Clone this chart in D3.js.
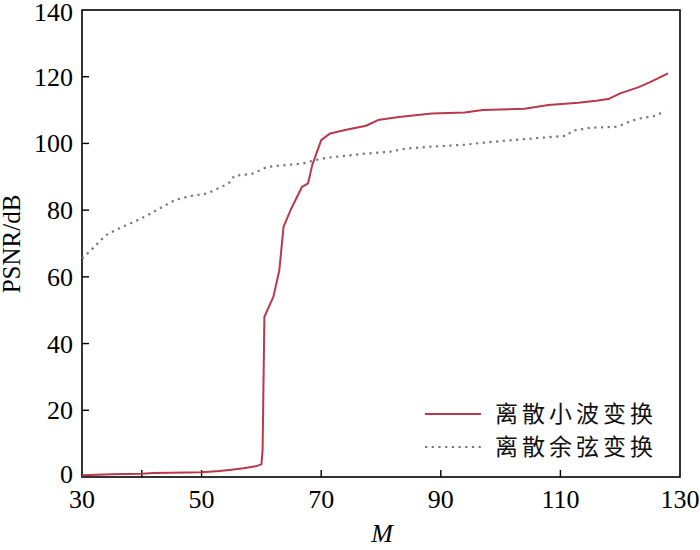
<!DOCTYPE html>
<html>
<head>
<meta charset="utf-8">
<script src="https://cdn.jsdelivr.net/npm/d3@7"></script>
<style>
  html, body { margin: 0; padding: 0; background: #fff; }
  svg { display: block; }
</style>
</head>
<body>
<svg id="chart" width="700" height="550"></svg>
<script>
// ---- data ----
const seriesNames = ["离散小波变换", "离散余弦变换"];

const dwtM    = [30, 35, 40, 42, 50, 53, 55, 57, 59, 60, 60.2, 60.5, 61, 62, 63, 63.7, 65, 66.8, 67.8, 68.5, 70, 71.5, 74, 77.5, 79.5, 83, 88.5, 94, 97, 104, 108, 113, 116, 118, 120, 123, 125, 128];
const dwtPSNR = [0.5, 0.8, 1.0, 1.2, 1.4, 1.8, 2.2, 2.6, 3.2, 3.8, 8, 48, 50, 54, 62, 75, 80.5, 87, 88, 93.5, 101, 103, 104, 105.3, 107, 107.9, 109, 109.3, 110, 110.4, 111.5, 112.2, 112.8, 113.3, 115, 116.8, 118.4, 121];

const dctM    = [30, 31.5, 34, 36.5, 38.5, 41, 43, 45.5, 48, 51, 52.5, 54.5, 55.5, 58.5, 61, 67, 69, 71, 77, 81.5, 84, 88, 94, 97, 102, 111, 112, 115, 119.5, 121.5, 123, 126, 127.5];
const dctPSNR = [65.5, 68, 72.5, 74.8, 76.3, 78.5, 80.5, 83, 84.2, 85, 86.3, 88, 90.3, 90.9, 93, 94, 95, 95.7, 96.9, 97.5, 98.4, 99, 99.6, 100.2, 101, 102.3, 103.8, 104.7, 105, 106.5, 107.4, 108.3, 109.8];

const xTickLabels = [30, 50, 70, 90, 110, 130];
const xTickMarks  = [40, 50, 70, 90, 110];
const yTicks      = [0, 20, 40, 60, 80, 100, 120, 140];
const xTitle = "M";
const yTitle = "PSNR/dB";

// ---- drawing ----
const svg = d3.select("#chart");
const mLeft = 82, mRight = 680, mTop = 10, mBottom = 477;
const x = d3.scaleLinear().domain([30, 130]).range([mLeft, mRight]);
const y = d3.scaleLinear().domain([0, 140]).range([mBottom, mTop]);

const serif = "'Liberation Serif', 'DejaVu Serif', serif";
const cjk = "'Noto Sans CJK SC', sans-serif";

// frame
svg.append("rect")
  .attr("x", mLeft).attr("y", mTop)
  .attr("width", mRight - mLeft).attr("height", mBottom - mTop)
  .attr("fill", "none").attr("stroke", "#000").attr("stroke-width", 1.6);

// x ticks (inward)
svg.append("g").selectAll("line").data(xTickMarks).join("line")
  .attr("x1", d => x(d)).attr("x2", d => x(d))
  .attr("y1", mBottom).attr("y2", mBottom - 7)
  .attr("stroke", "#000").attr("stroke-width", 1.4);

// y ticks (inward)
svg.append("g").selectAll("line").data(yTicks.filter(d => d > 0 && d < 140)).join("line")
  .attr("x1", mLeft).attr("x2", mLeft + 7)
  .attr("y1", d => y(d)).attr("y2", d => y(d))
  .attr("stroke", "#000").attr("stroke-width", 1.4);

// x tick labels
svg.append("g").selectAll("text").data(xTickLabels).join("text")
  .attr("x", d => x(d)).attr("y", 508)
  .attr("text-anchor", "middle")
  .attr("font-family", serif).attr("font-size", 26)
  .text(d => d);

// y tick labels
svg.append("g").selectAll("text").data(yTicks).join("text")
  .attr("x", 73).attr("y", d => y(d) + (d === 0 ? 6 : (d === 140 ? 11 : 9)))
  .attr("text-anchor", "end")
  .attr("font-family", serif).attr("font-size", 26)
  .text(d => d);

// axis titles
svg.append("text")
  .attr("x", 382).attr("y", 542)
  .attr("text-anchor", "middle")
  .attr("font-family", serif).attr("font-size", 26).attr("font-style", "italic")
  .text(xTitle);

svg.append("text")
  .attr("transform", "translate(20,244) rotate(-90)")
  .attr("text-anchor", "middle")
  .attr("font-family", serif).attr("font-size", 25)
  .text(yTitle);

// lines
const line = d3.line().x(d => x(d[0])).y(d => y(d[1]));
const dwt = dwtM.map((m, i) => [m, dwtPSNR[i]]);
const dct = dctM.map((m, i) => [m, dctPSNR[i]]);

const red = "#b8384c";
const grey = "#777777";

svg.append("path").datum(dct)
  .attr("d", line).attr("fill", "none")
  .attr("stroke", grey).attr("stroke-width", 2.2)
  .attr("stroke-dasharray", "2.2,4.5");

svg.append("path").datum(dwt)
  .attr("d", line).attr("fill", "none")
  .attr("stroke", red).attr("stroke-width", 2)
  .attr("stroke-linejoin", "round");

// legend
const legend = svg.append("g");
const rows = [
  { name: seriesNames[0], y: 414, color: red, dash: null, w: 2 },
  { name: seriesNames[1], y: 447, color: grey, dash: "2.2,4.5", w: 2.2 }
];
rows.forEach(r => {
  legend.append("line")
    .attr("x1", 425).attr("x2", 481)
    .attr("y1", r.y).attr("y2", r.y)
    .attr("stroke", r.color).attr("stroke-width", r.w)
    .attr("stroke-dasharray", r.dash);
  legend.append("text")
    .attr("x", 495).attr("y", r.y + 8)
    .attr("font-family", cjk).attr("font-size", 23)
    .attr("letter-spacing", 4)
    .attr("fill", "#111")
    .text(r.name);
});
</script>
</body>
</html>
